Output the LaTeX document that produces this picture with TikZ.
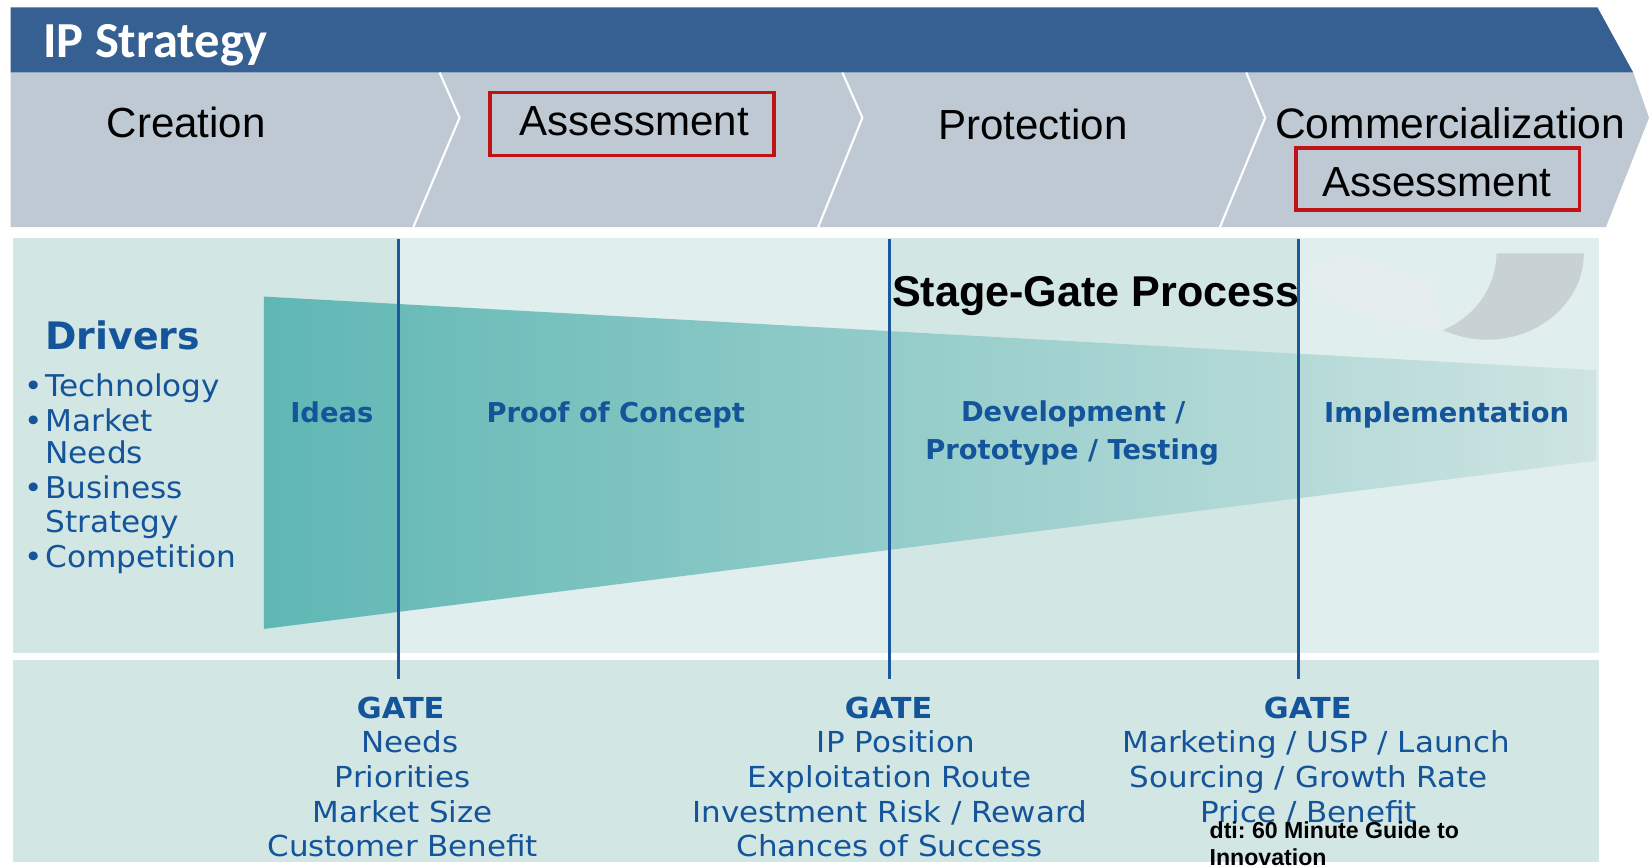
\documentclass[tikz,border=0pt]{standalone}
\usepackage{fontspec}
\setmainfont{Liberation Sans}
\newfontfamily\dvfont{DejaVu Sans}
\newfontfamily\dvgate[FakeStretch=1.07]{DejaVu Sans}
\newfontfamily\dvhead[FakeStretch=1.05]{DejaVu Sans}
\newfontfamily\dvdrv[FakeStretch=1.04]{DejaVu Sans}
\newfontfamily\clfont{Carlito}
\definecolor{bannerblue}{RGB}{54,96,146}
\definecolor{bandgrey}{RGB}{191,201,211}
\definecolor{redline}{RGB}{192,20,20}
\definecolor{colA}{RGB}{210,230,228}
\definecolor{colB}{RGB}{224,238,237}
\definecolor{funL}{RGB}{95,183,180}
\definecolor{funR}{RGB}{206,228,226}
\definecolor{txtblue}{RGB}{20,84,154}
\definecolor{gateblue}{RGB}{28,88,158}
\definecolor{moongrey}{RGB}{200,210,212}
\definecolor{swooshc}{RGB}{230,237,237}
\begin{document}
\frenchspacing
\begin{tikzpicture}[x=1pt,y=-1pt,
  phase/.style={inner sep=0, anchor=base, font=\fontsize{40}{48}\selectfont},
  redbox/.style={draw=redline, line width=3.5pt},
  divider/.style={draw=white, line width=2pt},
  stagelbl/.style={inner sep=0, anchor=base, text=txtblue, font=\dvfont\bfseries\fontsize{26}{31}\selectfont},
  drvitem/.style={inner sep=0, anchor=base west, text=txtblue, font=\dvdrv\fontsize{28.5}{33}\selectfont},
  gatehead/.style={inner sep=0, anchor=base, text=txtblue, font=\dvhead\bfseries\fontsize{27.5}{33}\selectfont},
  gateitem/.style={inner sep=0, anchor=base, text=txtblue, font=\dvgate\fontsize{27.5}{33}\selectfont},
  gateline/.style={draw=gateblue, line width=3pt},
  note/.style={inner sep=0, anchor=base west, font=\bfseries\fontsize{22}{26}\selectfont}
]
\useasboundingbox (0,0) rectangle (1568,825);
\clip (0,0) rectangle (1568,825);
\fill[white] (0,0) rectangle (1568,825);

% ---- IP Strategy banner
\fill[bannerblue] (10,7) -- (1519,7) -- (1553,69) -- (10,69) -- cycle;
\node[inner sep=0, anchor=base west, text=white, font=\clfont\bfseries\fontsize{48}{56}\selectfont] (title) at (41,55) {IP Strategy};

% ---- chevron band
\fill[bandgrey] (10,69) -- (1553,69) -- (1568,112) -- (1527,216) -- (10,216) -- cycle;
\draw[divider] (418,69) -- (437,112) -- (393,216);
\draw[divider] (801,69) -- (820,112) -- (778,216);
\draw[divider] (1185,69) -- (1203,112) -- (1160,216);

\node[phase] (creation) at (177,131) {Creation};
\node[phase] (assess1) at (603,129) {Assessment};
\node[phase] (protect) at (982,133) {Protection};
\node[phase, font=\fontsize{40.5}{48}\selectfont] (commerc) at (1379,132) {Commercialization};
\node[phase] (assess2) at (1366,187) {Assessment};
\draw[redbox] (466,88) rectangle (736,148);
\draw[redbox] (1232,141) rectangle (1502,200);

% ---- upper panel (alternating columns)
\fill[colA] (12,226) rectangle (379,621);
\fill[colB] (379,226) rectangle (846,621);
\fill[colA] (846,226) rectangle (1235,621);
\fill[colB] (1235,226) rectangle (1520,621);
% ---- lower panel
\fill[colA] (12,628) rectangle (1520,820);

% ---- funnel
\shade[left color=funL, right color=funR] (251,282) -- (1518,352) -- (1518,438) -- (251,598) -- cycle;

% ---- decorative swoosh and crescent
\fill[swooshc] (1236,258) -- (1280,241) -- (1360,268) -- (1372,314)
  .. controls (1330,312) and (1275,300) .. (1236,258) -- cycle;
\fill[moongrey] (1423,241) -- (1506,241)
  .. controls (1506,286) and (1465,323) .. (1414,323)
  .. controls (1398,323) and (1384,319) .. (1372,314)
  .. controls (1405,300) and (1423,270) .. (1423,241) -- cycle;

% ---- gate lines
\coordinate (g1t) at (379,227); \coordinate (g1b) at (379,646);
\coordinate (g2t) at (846,227); \coordinate (g2b) at (846,646);
\coordinate (g3t) at (1235,227); \coordinate (g3b) at (1235,646);
\draw[gateline] (g1t) -- (g1b);
\draw[gateline] (g2t) -- (g2b);
\draw[gateline] (g3t) -- (g3b);

\node[inner sep=0, anchor=base, font=\bfseries\fontsize{41}{48}\selectfont] (sgp) at (1042,291) {Stage-Gate Process};

% ---- drivers
\node[inner sep=0, anchor=base west, text=txtblue, font=\dvfont\bfseries\fontsize{36}{42}\selectfont] (drivers) at (43,332) {Drivers};
\node[drvitem] (d1) at (43,377) {\llap{•\hspace{2.5pt}}Technology};
\node[drvitem] (d2) at (43,410) {\llap{•\hspace{2.5pt}}Market};
\node[drvitem] (d3) at (43,441) {Needs};
\node[drvitem] (d4) at (43,474) {\llap{•\hspace{2.5pt}}Business};
\node[drvitem] (d5) at (43,506.5) {Strategy};
\node[drvitem] (d6) at (43,539.5) {\llap{•\hspace{2.5pt}}Competition};

% ---- stage labels
\node[stagelbl] (ideas) at (315.5,402) {Ideas};
\node[stagelbl] (poc) at (585.5,402) {Proof of Concept};
\node[stagelbl] (dev1) at (1020.5,401) {Development /};
\node[stagelbl] (dev2) at (1019.5,437) {Prototype / Testing};
\node[stagelbl] (impl) at (1375.5,402) {Implementation};

% ---- gate 1
\node[gatehead] (ga) at (381,683.5) {GATE};
\node[gateitem] (ga1) at (390,716) {Needs};
\node[gateitem] (ga2) at (383,749) {Priorities};
\node[gateitem] (ga3) at (383,782) {Market Size};
\node[gateitem] (ga4) at (383,814) {Customer Benefit};
% ---- gate 2
\node[gatehead] (gb) at (845,683.5) {GATE};
\node[gateitem] (gb1) at (852,716) {IP Position};
\node[gateitem] (gb2) at (846,749) {Exploitation Route};
\node[gateitem] (gb3) at (846,782) {Investment Risk / Reward};
\node[gateitem] (gb4) at (846,814) {Chances of Success};
% ---- gate 3
\node[gatehead] (gc) at (1243.5,683.5) {GATE};
\node[gateitem] (gc1) at (1251.5,716) {Marketing / USP / Launch};
\node[gateitem] (gc2) at (1244.5,749) {Sourcing / Growth Rate};
\node[gateitem] (gc3) at (1244.5,782) {Price / Benefit};

% ---- source note
\node[note] (src1) at (1150,797) {dti: 60 Minute Guide to};
\node[note] (src2) at (1150,823) {Innovation};
\end{tikzpicture}
\end{document}
